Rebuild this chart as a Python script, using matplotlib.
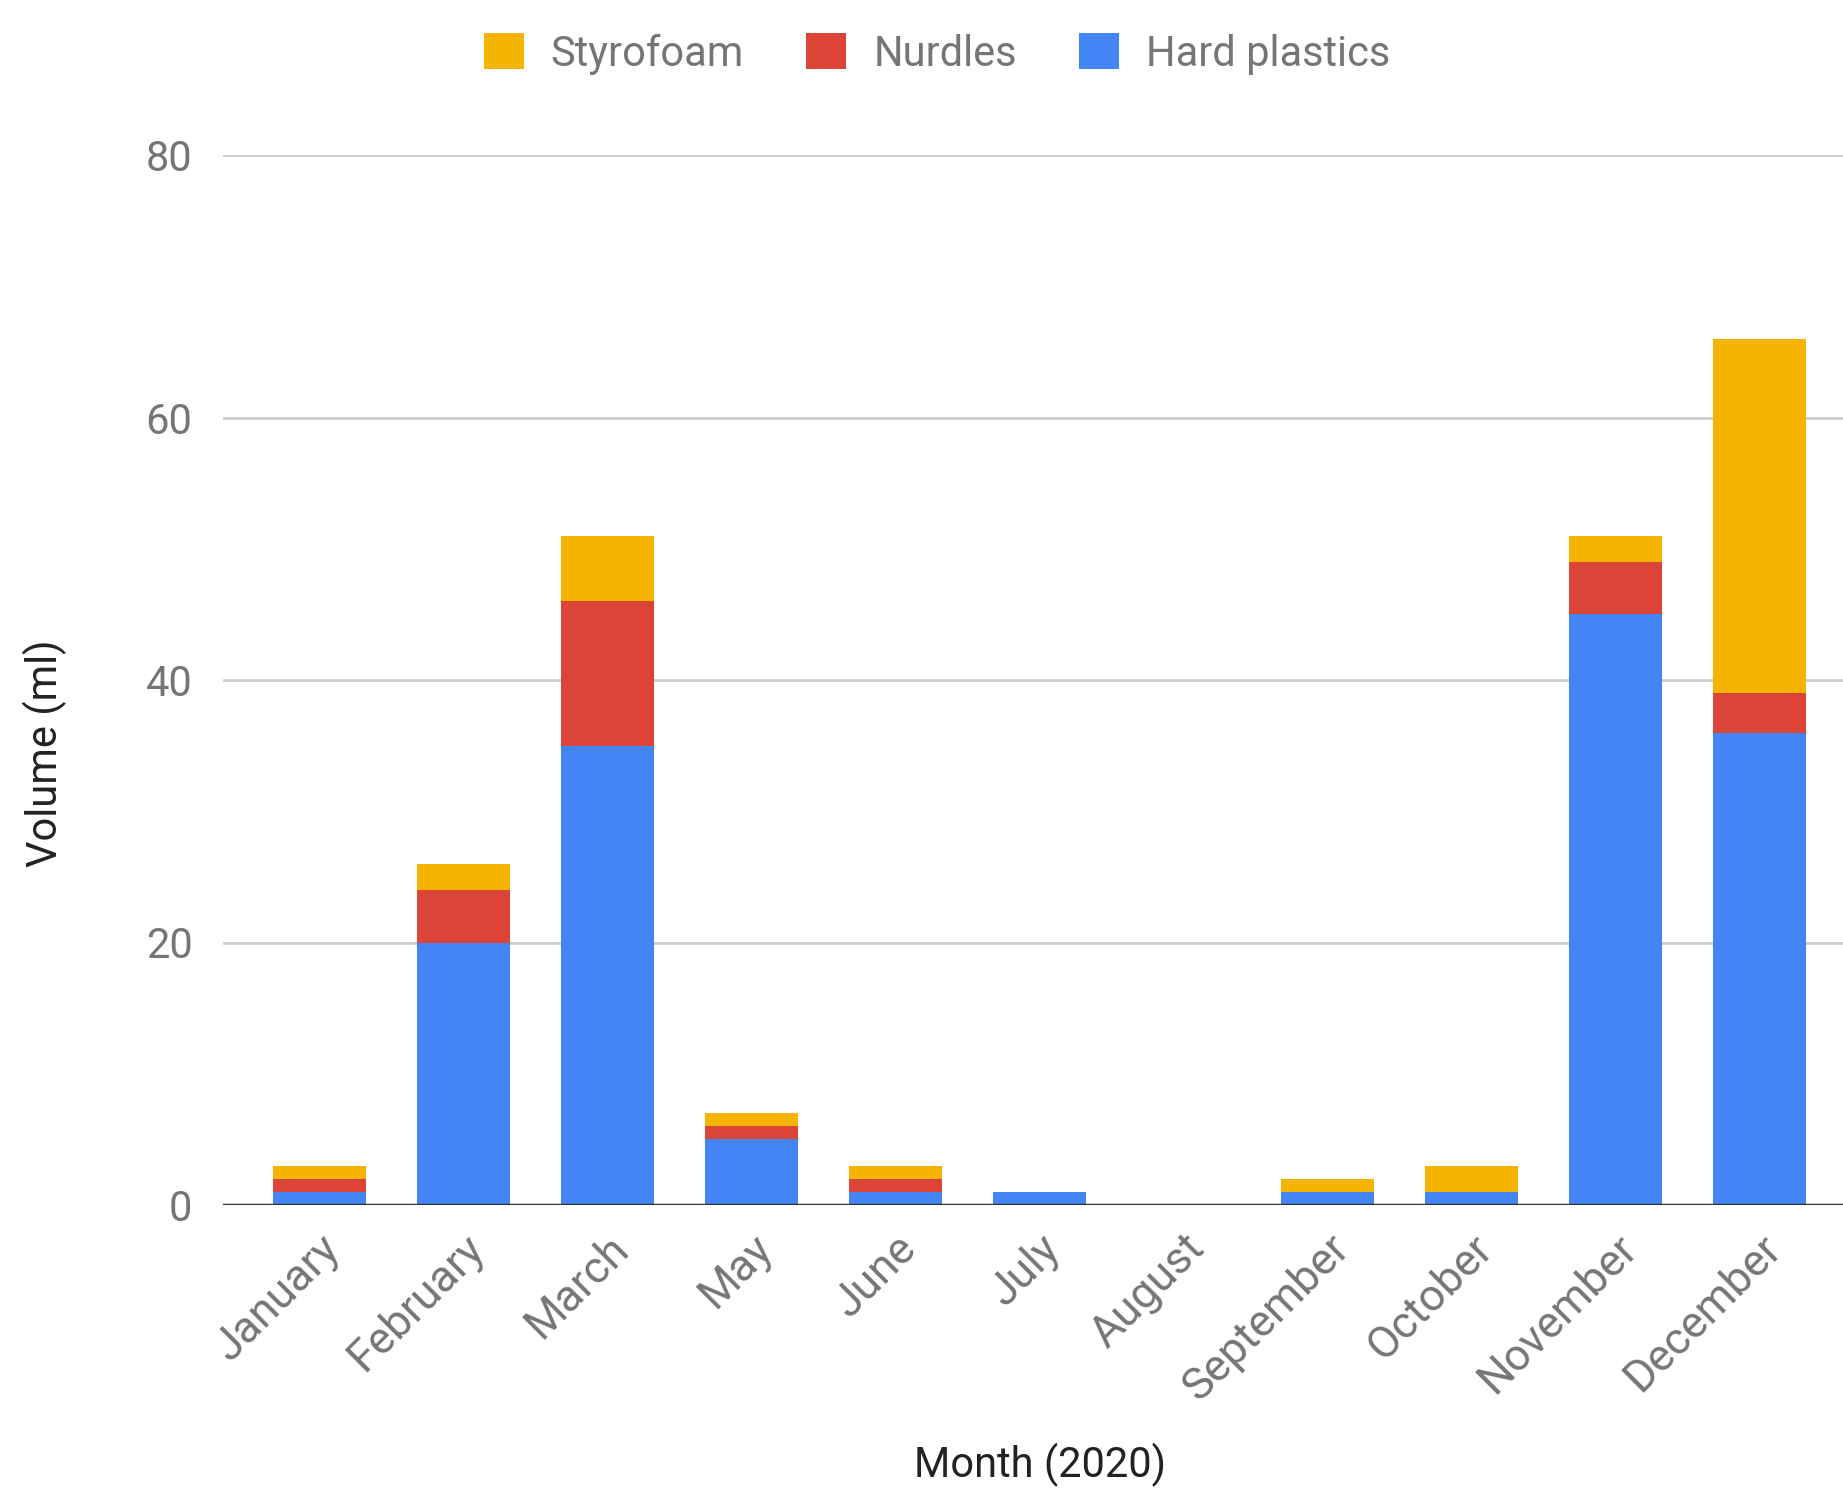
import matplotlib
matplotlib.use("Agg")
import matplotlib.pyplot as plt
import numpy as np

months = ["January", "February", "March", "May", "June", "July", "August",
          "September", "October", "November", "December"]
hard_plastics = [1, 20, 35, 5, 1, 1, 0, 1, 1, 45, 36]
nurdles = [1, 4, 11, 1, 1, 0, 0, 0, 0, 4, 3]
styrofoam = [1, 2, 5, 1, 1, 0, 0, 1, 2, 2, 27]
y_ticks = [0, 20, 40, 60, 80]

plt.rcParams['font.family'] = ['Roboto', 'DejaVu Sans']

W, H = 1843, 1488
FS = 30
fig = plt.figure(figsize=(W / 100, H / 100), dpi=100)
left, right = 223 / W, 1.0
bottom, top = 1 - 1205 / H, 1 - 155 / H
ax = fig.add_axes([left, bottom, right - left, top - bottom])

x = np.arange(len(months))
bw = 0.65
c_hard, c_nurd, c_styro = "#4285F4", "#DB4437", "#F4B400"
hp = np.array(hard_plastics)
nu = np.array(nurdles)
st = np.array(styrofoam)
ax.bar(x, hp, bw, color=c_hard, label="Hard plastics", zorder=3)
ax.bar(x, nu, bw, bottom=hp, color=c_nurd, label="Nurdles", zorder=3)
ax.bar(x, st, bw, bottom=hp + nu, color=c_styro, label="Styrofoam", zorder=3)

ax.set_xlim(-0.67, 10.58)
ax.set_ylim(0, 80)
ax.set_yticks(y_ticks)
ax.grid(axis='y', color="#cccccc", linewidth=2, zorder=0)
ax.axhline(0, color="#333333", linewidth=2.5, zorder=4)
for s in ax.spines.values():
    s.set_visible(False)
ax.tick_params(axis='both', length=0, colors="#757575", labelsize=FS)
ax.tick_params(axis='y', pad=22)
ax.set_xticks(x)
ax.set_xticklabels(months, rotation=45, ha='right', va='top',
                   rotation_mode='anchor', fontsize=32)
ax.tick_params(axis='x', pad=16)

fig.text(45 / W, 1 - 753 / H, "Volume (ml)", rotation=90,
         fontsize=FS, color="#222222", ha='center', va='center')
fig.text(1040 / W, 1 - 1465 / H, "Month (2020)",
         fontsize=FS, color="#222222", ha='center', va='center')

handles, labels = ax.get_legend_handles_labels()
order = [2, 1, 0]
leg = fig.legend([handles[i] for i in order], [labels[i] for i in order],
                 loc='center', bbox_to_anchor=(937 / W, 1 - 54 / H), ncol=3,
                 frameon=False, fontsize=FS, handlelength=0.95, handleheight=0.95,
                 columnspacing=1.5, handletextpad=0.65, labelcolor="#757575")

fig.savefig("out.png", dpi=100)
